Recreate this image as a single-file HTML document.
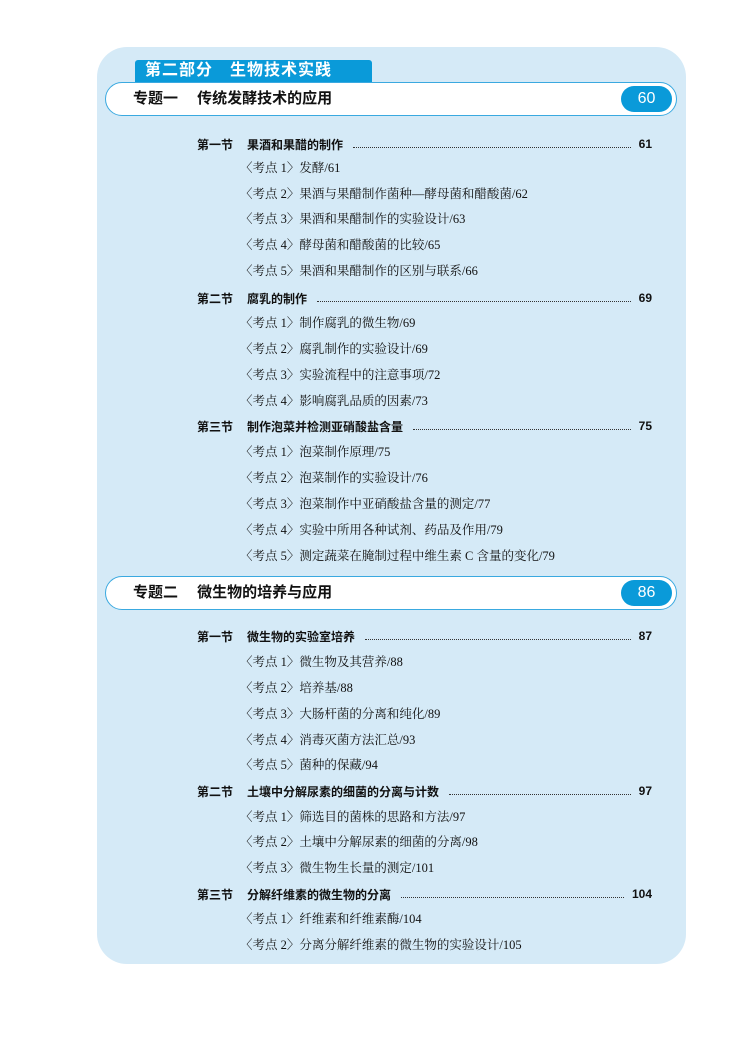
<!DOCTYPE html>
<html><head><meta charset="utf-8"><style>
body{margin:0;width:750px;height:1055px;background:#fff;position:relative;font-family:"Liberation Sans","Noto Sans CJK SC",sans-serif;}
.panel{position:absolute;left:97px;top:47px;width:589px;height:917px;background:#d5eaf7;border-radius:30px;}
.tab{position:absolute;left:135px;top:60px;width:237px;height:22px;background:#0a9ad9;border-radius:3px 3px 0 0;color:#fff;font-weight:bold;font-size:16px;line-height:22px;padding-left:10px;box-sizing:border-box;letter-spacing:1px;}
.bar{position:absolute;left:105px;width:572px;height:34px;background:#fff;border:1.5px solid #3aa9e0;border-radius:17px;box-sizing:border-box;}
.bar .t{position:absolute;left:27px;top:0;line-height:31px;font-size:15px;font-weight:bold;color:#111;white-space:pre;}
.bar .p{position:absolute;right:4px;top:3px;width:51px;height:26px;background:#0a9ad9;border-radius:13px;color:#fff;font-size:16px;text-align:center;line-height:26px;}
.s{position:absolute;left:197px;width:455px;font-size:12px;font-weight:bold;color:#111;display:flex;align-items:center;height:16px;}
.s .l{width:50px}
.s .d{flex:1;border-bottom:1.5px dotted #333;margin:0 8px 0 10px;height:0;position:relative;top:3px}
.i{position:absolute;left:240px;font-family:"Liberation Serif","Noto Serif CJK SC",serif;font-size:12.5px;color:#111;line-height:16px;white-space:nowrap;}
</style></head><body>
<div class="panel"></div>
<div class="tab">第二部分　生物技术实践</div>
<div class="bar" style="top:82px"><span class="t">专题一　 传统发酵技术的应用</span><span class="p">60</span></div>
<div class="s" style="top:136px"><span class="l">第一节</span>果酒和果醋的制作<span class="d"></span>61</div>
<div class="i" style="top:160px">〈考点 1〉发酵/61</div>
<div class="i" style="top:186px">〈考点 2〉果酒与果醋制作菌种—酵母菌和醋酸菌/62</div>
<div class="i" style="top:211px">〈考点 3〉果酒和果醋制作的实验设计/63</div>
<div class="i" style="top:237px">〈考点 4〉酵母菌和醋酸菌的比较/65</div>
<div class="i" style="top:263px">〈考点 5〉果酒和果醋制作的区别与联系/66</div>
<div class="s" style="top:290px"><span class="l">第二节</span>腐乳的制作<span class="d"></span>69</div>
<div class="i" style="top:315px">〈考点 1〉制作腐乳的微生物/69</div>
<div class="i" style="top:341px">〈考点 2〉腐乳制作的实验设计/69</div>
<div class="i" style="top:367px">〈考点 3〉实验流程中的注意事项/72</div>
<div class="i" style="top:393px">〈考点 4〉影响腐乳品质的因素/73</div>
<div class="s" style="top:418px"><span class="l">第三节</span>制作泡菜并检测亚硝酸盐含量<span class="d"></span>75</div>
<div class="i" style="top:444px">〈考点 1〉泡菜制作原理/75</div>
<div class="i" style="top:470px">〈考点 2〉泡菜制作的实验设计/76</div>
<div class="i" style="top:496px">〈考点 3〉泡菜制作中亚硝酸盐含量的测定/77</div>
<div class="i" style="top:522px">〈考点 4〉实验中所用各种试剂、药品及作用/79</div>
<div class="i" style="top:548px">〈考点 5〉测定蔬菜在腌制过程中维生素 C 含量的变化/79</div>
<div class="bar" style="top:576px"><span class="t">专题二　 微生物的培养与应用</span><span class="p">86</span></div>
<div class="s" style="top:628px"><span class="l">第一节</span>微生物的实验室培养<span class="d"></span>87</div>
<div class="i" style="top:654px">〈考点 1〉微生物及其营养/88</div>
<div class="i" style="top:680px">〈考点 2〉培养基/88</div>
<div class="i" style="top:706px">〈考点 3〉大肠杆菌的分离和纯化/89</div>
<div class="i" style="top:732px">〈考点 4〉消毒灭菌方法汇总/93</div>
<div class="i" style="top:757px">〈考点 5〉菌种的保藏/94</div>
<div class="s" style="top:783px"><span class="l">第二节</span>土壤中分解尿素的细菌的分离与计数<span class="d"></span>97</div>
<div class="i" style="top:809px">〈考点 1〉筛选目的菌株的思路和方法/97</div>
<div class="i" style="top:834px">〈考点 2〉土壤中分解尿素的细菌的分离/98</div>
<div class="i" style="top:860px">〈考点 3〉微生物生长量的测定/101</div>
<div class="s" style="top:886px"><span class="l">第三节</span>分解纤维素的微生物的分离<span class="d"></span>104</div>
<div class="i" style="top:911px">〈考点 1〉纤维素和纤维素酶/104</div>
<div class="i" style="top:937px">〈考点 2〉分离分解纤维素的微生物的实验设计/105</div>
</body></html>
